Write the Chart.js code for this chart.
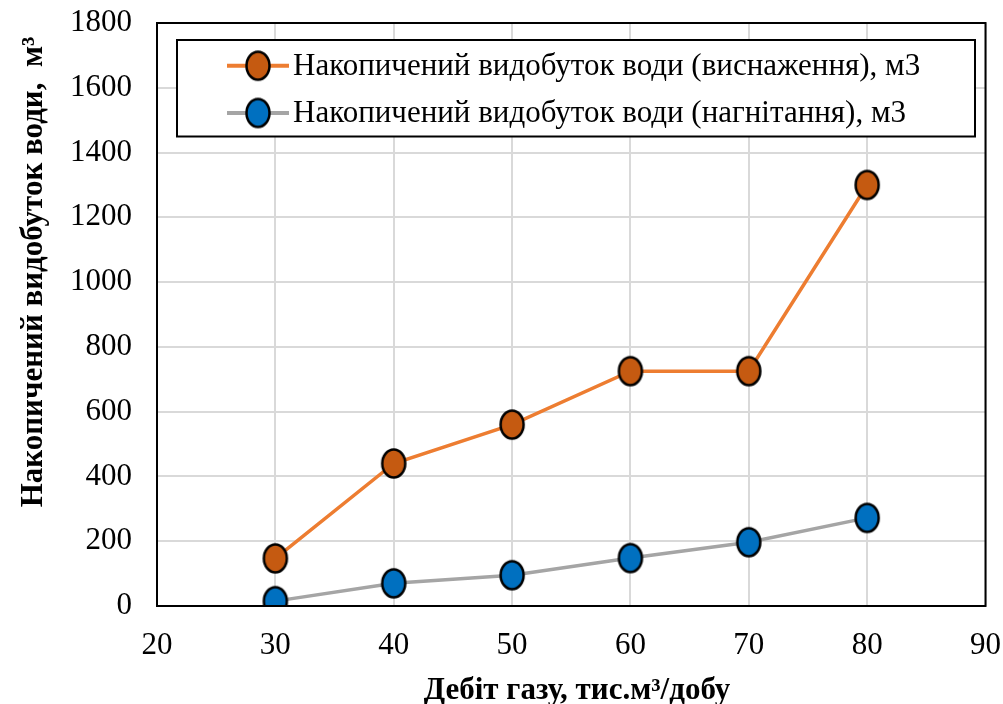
<!DOCTYPE html>
<html>
<head>
<meta charset="utf-8">
<script src="https://cdn.jsdelivr.net/npm/chart.js@4.4.1/dist/chart.umd.min.js"></script>
<style>
  html, body { margin: 0; padding: 0; background: #fff; }
  #c { display: block; }
</style>
</head>
<body>
<canvas id="c" width="1003" height="704" style="width:1003px;height:704px"></canvas>
<script>
// ---- data ----
const gasRates = [30, 40, 50, 60, 70, 80];
const waterDepletion = [147, 440, 560, 725, 725, 1300];
const waterInjection = [15, 70, 95, 148, 197, 272];
const seriesNames = [
  'Накопичений видобуток води (виснаження), м3',
  'Накопичений видобуток води (нагнітання), м3'
];
const xTitle = 'Дебіт газу, тис.м³/добу';
const yTitle = 'Накопичений видобуток води,  м³';

const FONT = "'Liberation Serif', 'Times New Roman', serif";

function makeMarker(fill) {
  const cv = document.createElement('canvas');
  cv.width = 30; cv.height = 35;
  const g = cv.getContext('2d');
  g.beginPath();
  g.ellipse(15, 17.5, 11.5, 14, 0, 0, Math.PI * 2);
  g.fillStyle = fill;
  g.fill();
  g.lineWidth = 2.5;
  g.strokeStyle = '#000';
  g.stroke();
  return cv;
}
const orangeMarker = makeMarker('#C55A11');
const blueMarker = makeMarker('#0070C0');

const frameAndTitles = {
  id: 'frameAndTitles',
  afterDatasetsDraw(chart) {
    const { ctx, chartArea: a } = chart;
    ctx.save();
    ctx.strokeStyle = '#000';
    ctx.lineWidth = 2;
    ctx.strokeRect(a.left, a.top, a.right - a.left, a.bottom - a.top);
    ctx.restore();
  },
  afterDraw(chart) {
    const { ctx } = chart;
    ctx.save();
    ctx.fillStyle = '#000';
    ctx.font = 'bold 31px ' + FONT;
    ctx.textAlign = 'center';
    ctx.textBaseline = 'alphabetic';
    ctx.fillText(xTitle, 577, 699);
    ctx.translate(42, 272);
    ctx.rotate(-Math.PI / 2);
    ctx.fillText(yTitle, 0, 0);
    ctx.restore();

    // legend
    ctx.save();
    const L = 177, T = 40, R = 975, B = 136.5;
    ctx.fillStyle = '#fff';
    ctx.fillRect(L, T, R - L, B - T);
    ctx.strokeStyle = '#000';
    ctx.lineWidth = 2;
    ctx.strokeRect(L, T, R - L, B - T);
    const rows = [
      { y: 65.7, color: '#ED7D31', marker: orangeMarker, text: seriesNames[0] },
      { y: 113, color: '#A5A5A5', marker: blueMarker, text: seriesNames[1] }
    ];
    rows.forEach(r => {
      ctx.beginPath();
      ctx.moveTo(227, r.y);
      ctx.lineTo(289, r.y);
      ctx.strokeStyle = r.color;
      ctx.lineWidth = 4;
      ctx.stroke();
      ctx.drawImage(r.marker, 258 - 15, r.y - 17.5);
      ctx.fillStyle = '#000';
      ctx.font = '31px ' + FONT;
      ctx.textAlign = 'left';
      ctx.textBaseline = 'alphabetic';
      ctx.fillText(r.text, 293, r.y + 9);
    });
    ctx.restore();
  }
};

new Chart(document.getElementById('c'), {
  type: 'scatter',
  data: {
    datasets: [
      {
        label: seriesNames[0],
        data: gasRates.map((x, i) => ({ x: x, y: waterDepletion[i] })),
        showLine: true,
        borderColor: '#ED7D31',
        borderWidth: 3.5,
        pointStyle: orangeMarker,
        pointRadius: 14,
        tension: 0
      },
      {
        label: seriesNames[1],
        data: gasRates.map((x, i) => ({ x: x, y: waterInjection[i] })),
        showLine: true,
        borderColor: '#A5A5A5',
        borderWidth: 3.5,
        pointStyle: blueMarker,
        pointRadius: 14,
        tension: 0
      }
    ]
  },
  options: {
    responsive: false,
    animation: false,
    devicePixelRatio: 1,
    layout: { padding: { left: 0, right: 17, top: 23, bottom: 0 } },
    plugins: { legend: { display: false }, tooltip: { enabled: false } },
    scales: {
      x: {
        type: 'linear',
        min: 20, max: 90,
        ticks: { stepSize: 10, padding: 21, color: '#000', font: { family: FONT, size: 31 },
                 callback: v => String(v) },
        grid: { color: '#D9D9D9', lineWidth: 2, drawTicks: false },
        border: { display: false },
        afterFit(s) { s.height = 98; s.paddingLeft = 0; s.paddingRight = 0; }
      },
      y: {
        min: 0, max: 1800,
        ticks: { stepSize: 200, padding: 25, color: '#000', font: { family: FONT, size: 31 },
                 callback: v => String(v) },
        grid: { color: '#D9D9D9', lineWidth: 2, drawTicks: false },
        border: { display: false },
        afterFit(s) { s.width = 157; s.paddingTop = 0; s.paddingBottom = 0; }
      }
    }
  },
  plugins: [frameAndTitles]
});
</script>
</body>
</html>
